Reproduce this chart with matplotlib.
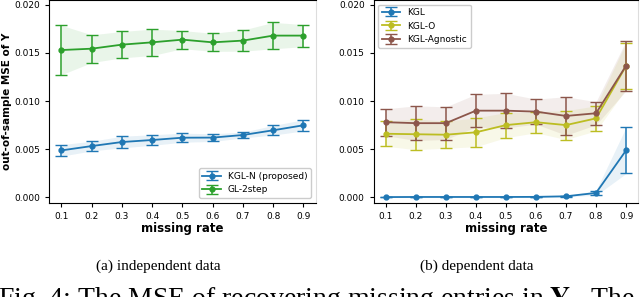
import numpy as np
import matplotlib
matplotlib.use("Agg")
import matplotlib.pyplot as plt

rates = [0.1, 0.2, 0.3, 0.4, 0.5, 0.6, 0.7, 0.8, 0.9]

# (a) independent data
kgln_mean = [0.00487, 0.00532, 0.00574, 0.00595, 0.00619, 0.0062, 0.00647, 0.00696, 0.00748]
kgln_std = [0.0006, 0.0005, 0.0006, 0.00055, 0.00047, 0.0004, 0.0003, 0.0005, 0.00058]
gl2_mean = [0.0153, 0.01544, 0.01586, 0.0161, 0.01638, 0.0161, 0.01628, 0.0168, 0.0168]
gl2_std = [0.00257, 0.00144, 0.00137, 0.00137, 0.00094, 0.00094, 0.0011, 0.00137, 0.00115]

# (b) dependent data
kgl_mean = [0.00002, 0.00003, 0.00003, 0.00003, 0.00003, 0.00004, 0.0001, 0.00045, 0.00487]
kgl_std = [0.00001, 0.00001, 0.00001, 0.00001, 0.00001, 0.00002, 0.00004, 0.00025, 0.0024]
kglo_mean = [0.0066, 0.00655, 0.0065, 0.00675, 0.0075, 0.0078, 0.0075, 0.0082, 0.01365]
kglo_std = [0.0013, 0.0016, 0.0014, 0.0015, 0.0013, 0.0011, 0.0015, 0.0013, 0.0024]
kgla_mean = [0.0078, 0.0077, 0.0077, 0.009, 0.009, 0.0089, 0.00845, 0.00873, 0.01367]
kgla_std = [0.0014, 0.0018, 0.0017, 0.0017, 0.0018, 0.0013, 0.002, 0.0012, 0.0026]

plt.rcParams["font.family"] = "DejaVu Sans"
plt.rcParams["mathtext.fontset"] = "stix"

fig = plt.figure(figsize=(6.4, 2.97), dpi=100)
ax1 = fig.add_axes([0.077, 0.318, 0.416, 0.682])
ax2 = fig.add_axes([0.584, 0.318, 0.413, 0.682])

def draw(ax, mean, std, color, label):
    m = np.array(mean)
    s = np.array(std)
    ax.fill_between(rates, m - s, m + s, color=color, alpha=0.1, linewidth=0)
    ax.errorbar(rates, m, yerr=s, color=color, marker="o", markersize=3.5,
                capsize=4, linewidth=1.3, elinewidth=1.1, label=label)

draw(ax1, kgln_mean, kgln_std, "tab:blue", "KGL-N (proposed)")
draw(ax1, gl2_mean, gl2_std, "tab:green", "GL-2step")

draw(ax2, kgl_mean, kgl_std, "tab:blue", "KGL")
draw(ax2, kglo_mean, kglo_std, "tab:olive", "KGL-O")
draw(ax2, kgla_mean, kgla_std, "tab:brown", "KGL-Agnostic")

for ax in (ax1, ax2):
    ax.set_ylim(-0.00055, 0.0205)
    ax.set_yticks([0.0, 0.005, 0.010, 0.015, 0.020])
    ax.set_yticklabels(["0.000", "0.005", "0.010", "0.015", "0.020"])
    ax.set_xticks(rates)
    ax.set_xticklabels([str(r) for r in rates])
    ax.tick_params(labelsize=6.5, length=3, width=0.8)
    ax.set_xlabel("missing rate", fontsize=8.5, fontweight="bold", labelpad=1)
    for sp in ax.spines.values():
        sp.set_linewidth(0.8)
    ax.spines["right"].set_color("#dddddd")

ax1.set_ylabel("out-of-sample MSE of Y", fontsize=7.5, fontweight="bold", labelpad=2)
ax1.legend(loc="lower right", fontsize=6.5, framealpha=1)
ax2.legend(loc="upper left", fontsize=6.5, framealpha=1)

fig.text(0.247, 0.105, "(a) independent data", ha="center", va="center",
         fontsize=11, family="Liberation Serif")
fig.text(0.745, 0.105, "(b) dependent data", ha="center", va="center",
         fontsize=11, family="Liberation Serif")
fig.text(-0.003, -0.03, "Fig. 4: The MSE of recovering missing entries in $\\mathbf{Y}$.  The",
         ha="left", va="baseline", fontsize=20, family="Liberation Serif")

fig.savefig("out.png", dpi=100)
